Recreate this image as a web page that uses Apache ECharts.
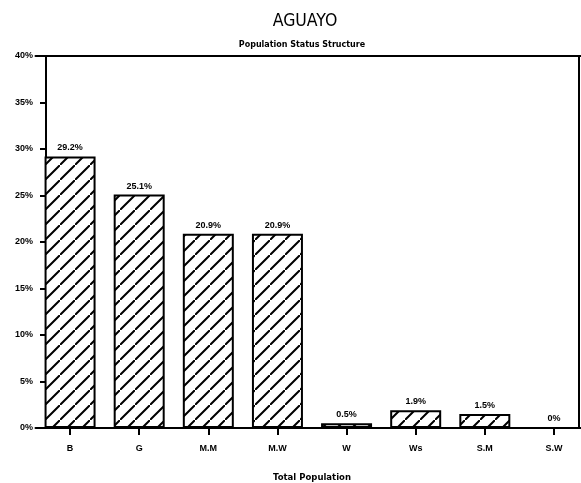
<!DOCTYPE html>
<html>
<head>
<meta charset="utf-8">
<script src="https://cdn.jsdelivr.net/npm/echarts@6/dist/echarts.min.js"></script>
<style>
html,body{margin:0;padding:0;background:#fff;}
#chart{width:581px;height:483px;}
</style>
</head>
<body>
<div id="chart"></div>
<script>
const categories = ['B', 'G', 'M.M', 'M.W', 'W', 'Ws', 'S.M', 'S.W'];
const values = [29.2, 25.1, 20.9, 20.9, 0.5, 1.9, 1.5, 0];
const valueLabels = ['29.2%', '25.1%', '20.9%', '20.9%', '0.5%', '1.9%', '1.5%', '0%'];
const yTicks = [0, 5, 10, 15, 20, 25, 30, 35, 40];

function makeHatch() {
  const s = 15;
  const c = document.createElement('canvas');
  c.width = s; c.height = s;
  const g = c.getContext('2d');
  g.fillStyle = '#fff';
  g.fillRect(0, 0, s, s);
  g.strokeStyle = '#000';
  g.lineWidth = 2;
  g.beginPath();
  g.moveTo(-s, s * 2); g.lineTo(s * 2, -s);
  g.moveTo(-s * 2, s); g.lineTo(s, -s * 2);
  g.moveTo(0, s * 3); g.lineTo(s * 3, 0);
  g.stroke();
  return c;
}

const chart = echarts.init(document.getElementById('chart'), null, {renderer: 'canvas'});
const lbl = {fontFamily: 'Liberation Sans, Arial, sans-serif', fontWeight: 'bold', fontSize: 9, color: '#000'};
const wide = {fontFamily: 'DejaVu Sans, sans-serif', fontWeight: 'bold', fontSize: 8.5, color: '#000'};
chart.setOption({
  backgroundColor: '#fff',
  animation: false,
  title: [
    {text: 'AGUAYO', left: 300, textAlign: 'center', top: 7,
     textStyle: {fontFamily: 'Liberation Sans Narrow, DejaVu Sans Condensed, Arial, sans-serif', fontWeight: 'normal', fontSize: 17.5, color: '#000'}},
    {text: 'Population Status Structure', left: 297, textAlign: 'center', top: 36,
     textStyle: Object.assign({}, wide, {fontSize: 8})}
  ],
  grid: {left: 35.5, top: 56, width: 553, height: 372, outerBoundsMode: 'none', containLabel: false},
  xAxis: [
    {type: 'category', data: categories, position: 'bottom',
     axisLine: {show: true, onZero: false, lineStyle: {color: '#000', width: 2}},
     axisTick: {show: true, interval: 0, alignWithLabel: true, inside: false, length: 7, lineStyle: {color: '#000', width: 2}},
     axisLabel: Object.assign({margin: 16, interval: 0}, lbl),
     name: 'Total Population', nameLocation: 'middle', nameGap: 45,
     nameTextStyle: wide},
    {type: 'category', data: categories, position: 'top',
     axisLine: {show: true, onZero: false, lineStyle: {color: '#000', width: 2}},
     axisTick: {show: false}, axisLabel: {show: false}}
  ],
  yAxis: [
    {type: 'value', min: 0, max: 40, interval: 5, position: 'left', offset: -10.5,
     axisLine: {show: true, onZero: false, lineStyle: {color: '#000', width: 2}},
     axisTick: {show: true, length: 6, lineStyle: {color: '#000', width: 2}},
     axisLabel: Object.assign({margin: 13, formatter: v => yTicks.includes(v) ? v + '%' : ''}, lbl),
     splitLine: {show: false}},
    {type: 'value', min: 0, max: 40, interval: 5, position: 'right', offset: -10,
     axisLine: {show: true, onZero: false, lineStyle: {color: '#000', width: 2}},
     axisTick: {show: false}, axisLabel: {show: false}, splitLine: {show: false}}
  ],
  series: [{
    type: 'bar',
    data: values,
    barWidth: 51,
    itemStyle: {color: {image: makeHatch(), repeat: 'repeat'}, borderColor: '#000', borderWidth: 2},
    label: Object.assign({show: true, position: 'top', distance: 4,
      formatter: p => valueLabels[p.dataIndex]}, lbl)
  }]
});
</script>
</body>
</html>
